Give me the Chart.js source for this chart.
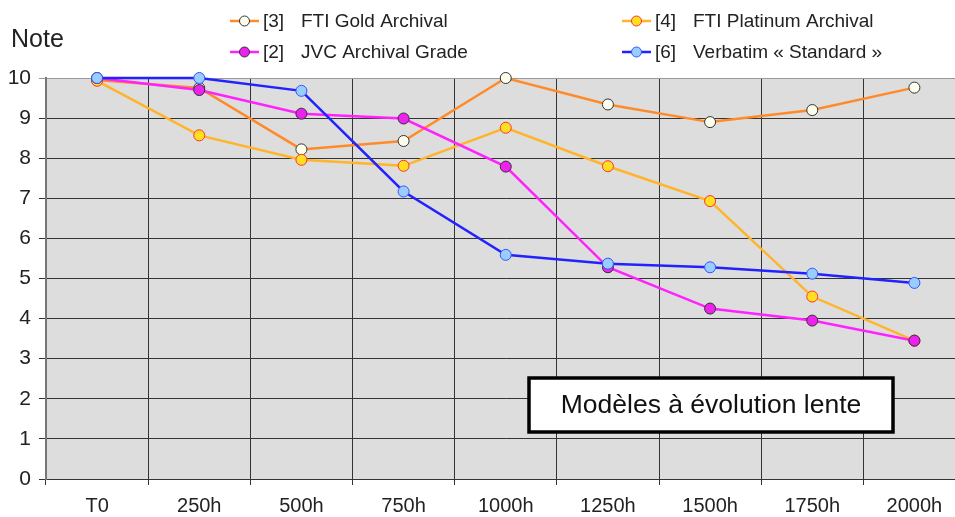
<!DOCTYPE html>
<html>
<head>
<meta charset="utf-8">
<script src="https://cdn.jsdelivr.net/npm/chart.js@4/dist/chart.umd.min.js"></script>
<style>
  html, body { margin: 0; padding: 0; background: #fff; overflow: hidden; }
  #wrap { width: 972px; height: 517px; }
</style>
</head>
<body>
<div id="wrap"><canvas id="noteChart" width="972" height="517"></canvas></div>
<script>
// Données
const labels = ['T0', '250h', '500h', '750h', '1000h', '1250h', '1500h', '1750h', '2000h'];
const ftiGold = [9.95, 9.75, 8.22, 8.43, 10.0, 9.34, 8.90, 9.20, 9.76];
const ftiPlatinum = [9.93, 8.57, 7.96, 7.81, 8.76, 7.80, 6.93, 4.55, 3.45];
const jvcArchival = [10.0, 9.70, 9.11, 8.99, 7.79, 5.28, 4.25, 3.95, 3.45];
const verbatim = [10.0, 10.0, 9.68, 7.17, 5.59, 5.37, 5.28, 5.12, 4.89];
const yTicks = [0, 1, 2, 3, 4, 5, 6, 7, 8, 9, 10];

const FONT = '"Liberation Sans", Arial, sans-serif';

// fond gris de la zone de tracé
const plotBackground = {
    id: 'plotBackground',
    beforeDraw(chart) {
        const { ctx, chartArea: a } = chart;
        ctx.save();
        ctx.fillStyle = '#dddddd';
        ctx.fillRect(a.left, a.top, a.right - a.left, a.bottom - a.top);
        ctx.restore();
    }
};

// titre de l'axe, légende sur deux colonnes et encadré
const decorations = {
    id: 'decorations',
    afterDraw(chart) {
        const ctx = chart.ctx;
        ctx.save();
        ctx.fillStyle = '#222';
        ctx.textBaseline = 'middle';
        ctx.textAlign = 'left';
        ctx.font = '25px ' + FONT;
        ctx.fillText('Note', 11, 40);

        const items = [
            { ds: 0, x: 230, y: 21, num: '[3]', text: 'FTI Gold Archival' },
            { ds: 1, x: 622, y: 21, num: '[4]', text: 'FTI Platinum Archival' },
            { ds: 2, x: 230, y: 52, num: '[2]', text: 'JVC Archival Grade' },
            { ds: 3, x: 622, y: 52, num: '[6]', text: 'Verbatim « Standard »' }
        ];
        items.forEach(it => {
            const d = chart.data.datasets[it.ds];
            ctx.strokeStyle = d.borderColor;
            ctx.lineWidth = 2.5;
            ctx.beginPath();
            ctx.moveTo(it.x, it.y);
            ctx.lineTo(it.x + 29, it.y);
            ctx.stroke();
            ctx.beginPath();
            ctx.arc(it.x + 14.5, it.y, 5, 0, Math.PI * 2);
            ctx.fillStyle = d.pointBackgroundColor;
            ctx.fill();
            ctx.lineWidth = 1;
            ctx.strokeStyle = d.pointBorderColor;
            ctx.stroke();
            ctx.fillStyle = '#222';
            ctx.font = '19px ' + FONT;
            ctx.fillText(it.num, it.x + 33, it.y + 1);
            ctx.fillText(it.text, it.x + 71, it.y + 1);
        });

        // encadré
        ctx.fillStyle = '#ffffff';
        ctx.fillRect(529, 378, 364, 54);
        ctx.strokeStyle = '#000';
        ctx.lineWidth = 3.5;
        ctx.strokeRect(529, 378, 364, 54);
        ctx.fillStyle = '#111';
        ctx.textAlign = 'center';
        ctx.font = '26.5px ' + FONT;
        ctx.fillText('Modèles à évolution lente', 711, 406);
        ctx.restore();
    }
};

function serie(label, data, line, fill, border, order) {
    return {
        label: label,
        data: data,
        borderColor: line,
        backgroundColor: line,
        borderWidth: 2.5,
        pointRadius: 5.5,
        pointHoverRadius: 5.5,
        pointBackgroundColor: fill,
        pointBorderColor: border,
        pointBorderWidth: 1,
        tension: 0,
        clip: false,
        order: order
    };
}

new Chart(document.getElementById('noteChart'), {
    type: 'line',
    data: {
        labels: labels,
        datasets: [
            serie('[3] FTI Gold Archival', ftiGold, '#ff8a2a', '#ffffee', '#333333', 4),
            serie('[4] FTI Platinum Archival', ftiPlatinum, '#ffb42a', '#ffe020', '#ff3030', 3),
            serie('[2] JVC Archival Grade', jvcArchival, '#ff22ff', '#ee22ee', '#333333', 2),
            serie('[6] Verbatim « Standard »', verbatim, '#2222ff', '#99ccff', '#3355ff', 1)
        ]
    },
    options: {
        responsive: false,
        animation: false,
        devicePixelRatio: 1,
        layout: { padding: { top: 78, left: 0, right: 0, bottom: 0 } },
        plugins: {
            legend: { display: false },
            title: { display: false },
            tooltip: { enabled: false }
        },
        scales: {
            x: {
                offset: true,
                grid: {
                    offset: true,
                    color: '#333333',
                    lineWidth: 1,
                    tickLength: 6
                },
                border: { color: '#333333', width: 1 },
                ticks: {
                    color: '#222',
                    font: { family: FONT, size: 20 },
                    padding: 9,
                    maxRotation: 0,
                    autoSkip: false
                },
                afterFit(scale) { scale.height = 38; }
            },
            y: {
                min: 0,
                max: 10,
                afterBuildTicks(scale) { scale.ticks = yTicks.map(v => ({ value: v })); },
                grid: {
                    color: ctx => (ctx.tick && ctx.tick.value === 10) ? '#999999' : '#333333',
                    lineWidth: 1,
                    tickLength: 7
                },
                border: { color: '#777777', width: 2 },
                ticks: {
                    color: '#222',
                    font: { family: FONT, size: 21 },
                    padding: 8
                },
                afterFit(scale) { scale.width = 46; }
            }
        }
    },
    plugins: [plotBackground, decorations]
});
</script>
</body>
</html>
